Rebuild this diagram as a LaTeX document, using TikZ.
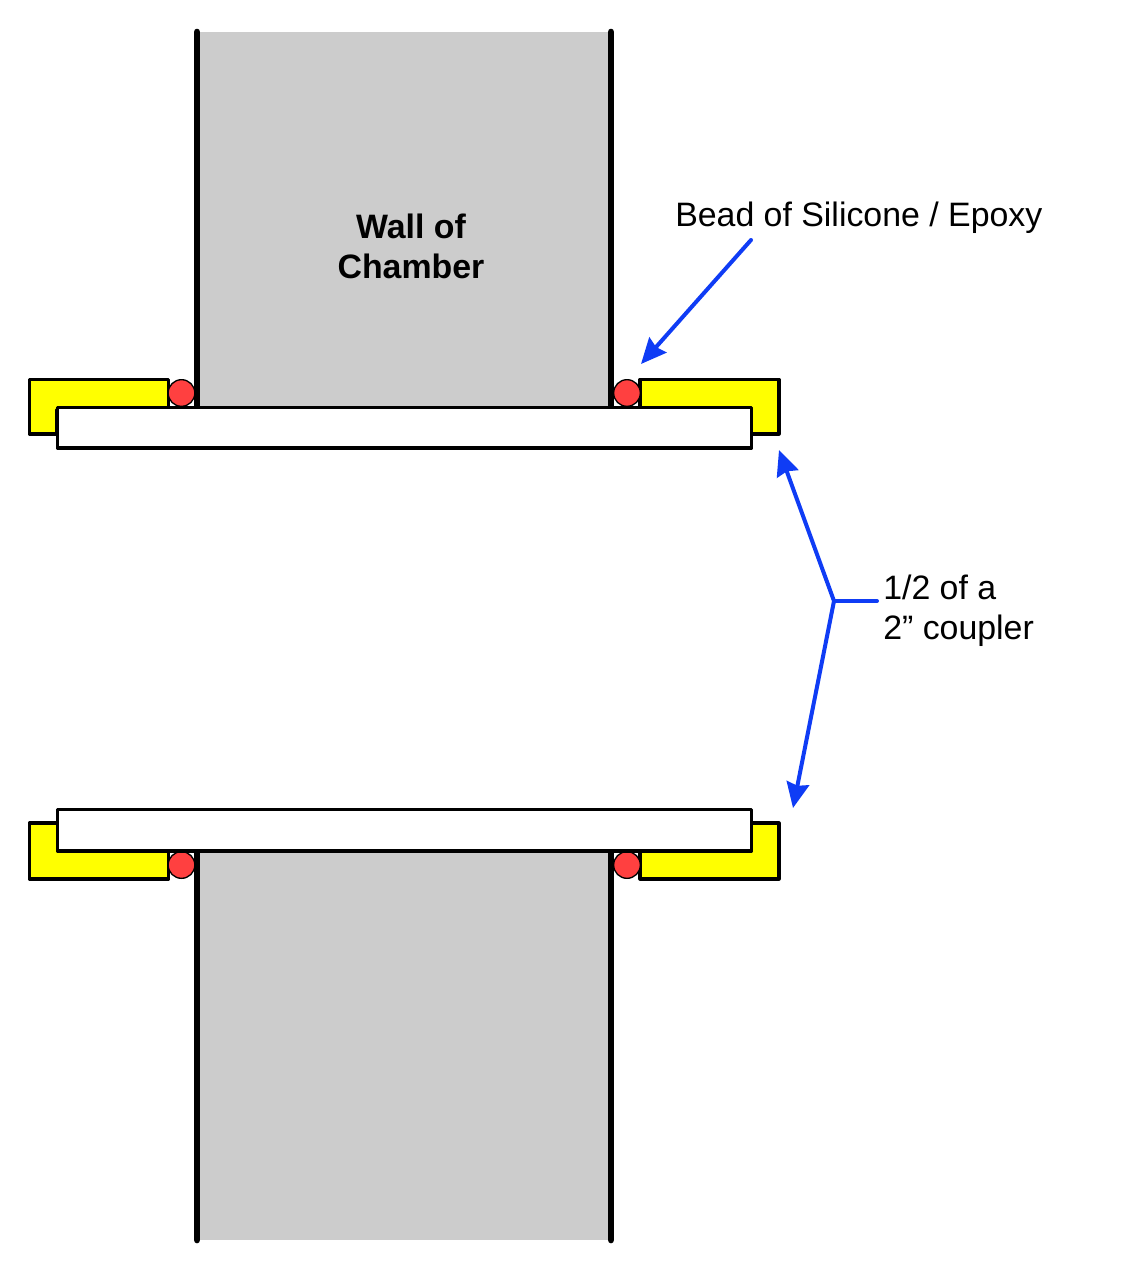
\documentclass[tikz,border=0pt]{standalone}
\usepackage{fontspec}
\setmainfont{Liberation Sans}
\usetikzlibrary{arrows.meta}
\definecolor{wallgray}{RGB}{204,204,204}
\definecolor{beadred}{RGB}{255,64,64}
\definecolor{fityellow}{RGB}{255,255,0}
\definecolor{callblue}{RGB}{15,60,245}
\tikzset{
  wall/.style={fill=wallgray,draw=none},
  wallside/.style={line width=5pt,line cap=round,black},
  fitting/.style={fill=fityellow,draw=black,line width=2.4pt,line join=round},
  pipe/.style={fill=white,draw=black,line width=2.4pt,line join=round},
  bead/.style={circle,fill=beadred,draw=black,line width=1pt,minimum size=20pt,inner sep=0pt},
  call/.style={draw=callblue,line width=3pt,line cap=round},
  callarrow/.style={call,-{Stealth[length=19pt,width=17pt,inset=2pt]}},
  lbl/.style={font=\fontsize{25.4pt}{30pt}\selectfont,inner sep=0pt,align=left,text=black},
}
\begin{document}
\begin{tikzpicture}[x=0.75pt,y=-0.75pt]
\useasboundingbox (0,0) rectangle (1140,1272);
% walls
\fill[wall] (197,32) rectangle (611,407);
\fill[wall] (197,851) rectangle (611,1240);
\draw[wallside] (197,32) -- (197,407);
\draw[wallside] (611,32) -- (611,407);
\draw[wallside] (197,851) -- (197,1240);
\draw[wallside] (611,851) -- (611,1240);
% fittings
\draw[fitting] (29.5,379.5) -- (168.5,379.5) -- (168.5,410) -- (57,410) -- (57,434) -- (29.5,434) -- cycle;
\draw[fitting] (640,379.5) -- (779,379.5) -- (779,434) -- (750,434) -- (750,410) -- (640,410) -- cycle;
\draw[fitting] (29.5,823) -- (60,823) -- (60,851) -- (168.5,851) -- (168.5,879) -- (29.5,879) -- cycle;
\draw[fitting] (750,823) -- (779,823) -- (779,879) -- (640,879) -- (640,851) -- (750,851) -- cycle;
% beads
\node[bead] (b1) at (181.5,393) {};
\node[bead] (b2) at (627,393) {};
\node[bead] (b3) at (181.5,865) {};
\node[bead] (b4) at (627,865) {};
% couplers
\draw[pipe] (57.5,407.5) rectangle (751.5,448);
\draw[pipe] (57.5,809.5) rectangle (751.5,851);
% labels
\node[lbl,font=\fontsize{25.4pt}{30pt}\selectfont\bfseries,align=center] (wall) at (411,246.5) {Wall of\\Chamber};
\node[lbl,anchor=base west] (beadlabel) at (675,226) {Bead of Silicone / Epoxy};
\node[lbl,anchor=base west] (c1) at (883,599) {1/2 of a};
\node[lbl,anchor=base west] (c2) at (883,639) {2” coupler};
% callouts
\coordinate (s) at (751,240);
\coordinate (t) at (641,364);
\coordinate (j) at (834,601);
\coordinate (e) at (877,601);
\coordinate (up) at (779,450);
\coordinate (dn) at (793,808);
\draw[callarrow] (s) -- (t);
\draw[callarrow] (j) -- (up);
\draw[callarrow] (j) -- (dn);
\draw[call] (j) -- (e);
\end{tikzpicture}
\end{document}
